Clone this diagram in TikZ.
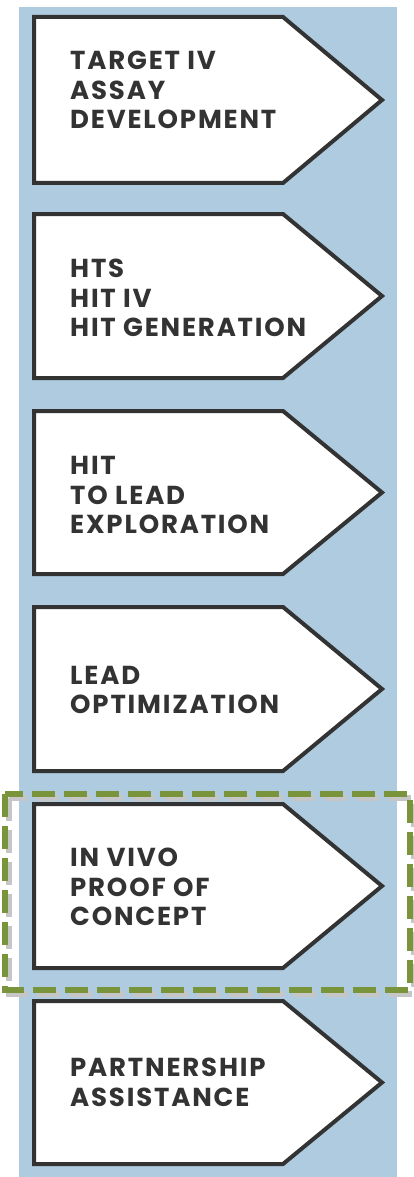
\documentclass[tikz,border=0pt]{standalone}
\usepackage{fontspec}
\setmainfont{Poppins}
\newfontfamily\stagefont{Poppins}[LetterSpace=7]
\definecolor{panelblue}{RGB}{174,203,224}
\definecolor{pocgreen}{RGB}{122,148,60}
\definecolor{inkgrey}{RGB}{51,51,51}
\tikzset{
  stagebox/.style={draw=inkgrey, line width=4pt, fill=white, line join=miter},
  stagetext/.style={anchor=west, align=left, inner sep=0pt, text=inkgrey,
    font=\stagefont\fontsize{26}{29.5}\selectfont\bfseries},
  pocframe/.style={draw=pocgreen, line width=6.5pt, dash pattern=on 23pt off 9pt}
}
\begin{document}
\begin{tikzpicture}[x=1pt,y=-1pt]
          \useasboundingbox (0,0) rectangle (414,1177);
          % blue panel
          \fill[panelblue] (19,7) rectangle (397,1177);
          % six stages
          \draw[stagebox] (34,17) -- (283,17) -- (382,100) -- (283,183) -- (34,183) -- cycle;
          \draw[stagebox] (34,214) -- (283,214) -- (382,296) -- (283,378) -- (34,378) -- cycle;
          \draw[stagebox] (34,411) -- (283,411) -- (382,492.5) -- (283,574) -- (34,574) -- cycle;
          \draw[stagebox] (34,607) -- (283,607) -- (382,689) -- (283,771) -- (34,771) -- cycle;
          \draw[stagebox] (34,804) -- (283,804) -- (382,886) -- (283,968) -- (34,968) -- cycle;
          \draw[stagebox] (34,1001) -- (283,1001) -- (382,1082.5) -- (283,1164) -- (34,1164) -- cycle;
          % labels
          \node[stagetext] (target) at (70,90) {TARGET IV\\ASSAY\\DEVELOPMENT};
          \node[stagetext] (hts) at (70,298) {HTS\\HIT IV\\HIT GENERATION};
          \node[stagetext] (hitlead) at (70,495) {HIT\\TO LEAD\\EXPLORATION};
          \node[stagetext] (leadopt) at (70,690) {LEAD\\OPTIMIZATION};
          \node[stagetext] (invivo) at (70,887) {IN VIVO\\PROOF OF\\CONCEPT};
          \node[stagetext] (partner) at (70,1082.5) {PARTNERSHIP\\ASSISTANCE};
          % dashed frame round the in vivo stage
          \draw[pocframe, draw=gray!45] (9,798) rectangle (414,994);
          \draw[pocframe] (5,794) rectangle (410,990);
        \end{tikzpicture}
\end{document}
